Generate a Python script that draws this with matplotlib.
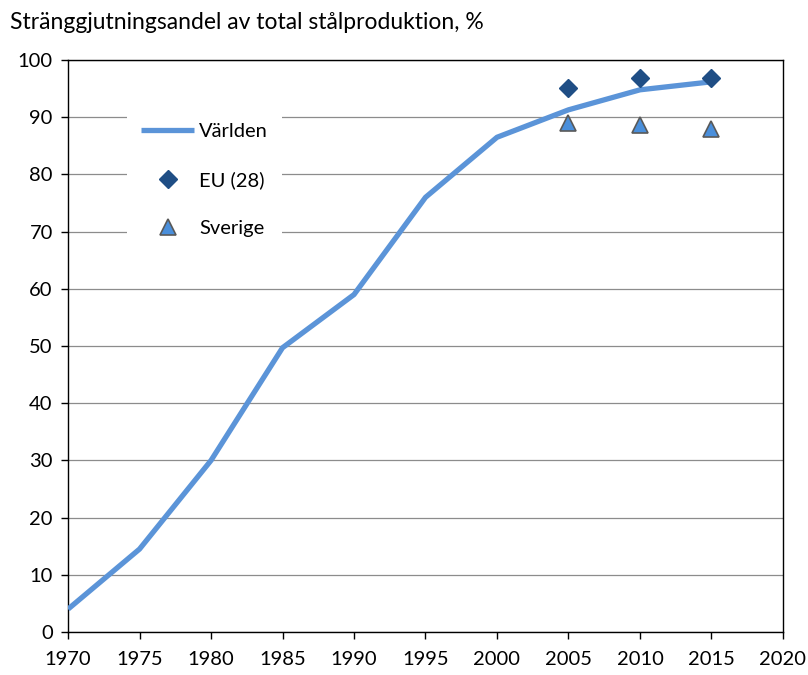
import matplotlib
matplotlib.use("Agg")
import matplotlib.pyplot as plt

plt.rcParams["font.family"] = ["Lato", "DejaVu Sans"]

years = [1970, 1975, 1980, 1985, 1990, 1995, 2000, 2005, 2010, 2015]
world = [4.0, 14.5, 30.0, 49.7, 59.0, 76.0, 86.5, 91.3, 94.8, 96.2]

eu_years = [2005, 2010, 2015]
eu = [95.1, 96.9, 96.9]

se_years = [2005, 2010, 2015]
sweden = [89.0, 88.6, 88.0]

fig = plt.figure(figsize=(8.08, 6.75), dpi=100)
ax = fig.add_axes([0.0842, 0.0637, 0.8848, 0.8473])

ax.plot(years, world, color="#5B94D8", linewidth=3.8, label="Världen", zorder=3,
        solid_capstyle="butt")
ax.plot(eu_years, eu, linestyle="none", marker="D", markersize=9, color="#1F4E85",
        label="EU (28)", zorder=4)
ax.plot(se_years, sweden, linestyle="none", marker="^", markersize=11,
        markerfacecolor="#4A8FDB", markeredgecolor="#595959", markeredgewidth=1.2,
        label="Sverige", zorder=4)

ax.set_xlim(1970, 2020)
ax.set_ylim(0, 100)
ax.set_xticks(range(1970, 2021, 5))
ax.set_yticks(range(0, 101, 10))
ax.yaxis.grid(True, color="#8C8C8C", linewidth=0.9)
ax.set_axisbelow(True)
for s in ax.spines.values():
    s.set_color("black")
    s.set_linewidth(1.0)
ax.tick_params(direction="out", length=5, width=1, labelsize=14.5, colors="black")
ax.tick_params(axis="x", pad=9)
ax.tick_params(axis="y", pad=6)

leg = ax.legend(loc="upper left", bbox_to_anchor=(0.083, 0.915), frameon=True,
                fontsize=14.5, handlelength=2.6, labelspacing=1.55,
                borderpad=0.7, handletextpad=0.25, borderaxespad=0)
leg.get_frame().set_facecolor("white")
leg.get_frame().set_edgecolor("none")
leg.get_frame().set_alpha(1)

fig.text(0.012, 0.967, "Stränggjutningsandel av total stålproduktion, %",
         fontsize=16.5, ha="left", va="center")

fig.savefig("out.png", dpi=100)
